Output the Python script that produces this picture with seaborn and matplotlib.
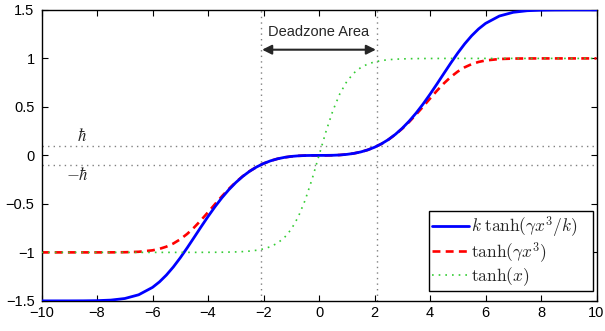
import numpy as np
import pandas as pd
import matplotlib
matplotlib.use("Agg")
import matplotlib.pyplot as plt
import seaborn as sns

# values
x_vals = [-10, -9.5, -9, -8.5, -8, -7.5, -7, -6.5,
          -6, -5.75, -5.5, -5.25, -5, -4.75, -4.5, -4.25, -4, -3.75, -3.5, -3.25,
          -3, -2.75, -2.5, -2.25, -2, -1.75, -1.5, -1.25, -1, -0.75, -0.5, -0.25,
          0, 0.25, 0.5, 0.75, 1, 1.25, 1.5, 1.75, 2, 2.25, 2.5, 2.75,
          3, 3.25, 3.5, 3.75, 4, 4.25, 4.5, 4.75, 5, 5.25, 5.5, 5.75, 6,
          6.5, 7, 7.5, 8, 8.5, 9, 9.5, 10]

blue_vals = [-1.5, -1.5, -1.4999, -1.4994, -1.4977, -1.4919, -1.4756, -1.4372,
             -1.3609, -1.3042, -1.2338, -1.1505, -1.0559, -0.9529, -0.8452, -0.7365,
             -0.6304, -0.5298, -0.4372, -0.3537, -0.2802, -0.2168, -0.1634, -0.1193,
             -0.0839, -0.0562, -0.0354, -0.0205, -0.0105, -0.0044, -0.0013, -0.0002,
             0, 0.0002, 0.0013, 0.0044, 0.0105, 0.0205, 0.0354, 0.0562, 0.0839,
             0.1193, 0.1634, 0.2168, 0.2802, 0.3537, 0.4372, 0.5298, 0.6304, 0.7365,
             0.8452, 0.9529, 1.0559, 1.1505, 1.2338, 1.3042, 1.3609,
             1.4372, 1.4756, 1.4919, 1.4977, 1.4994, 1.4999, 1.5, 1.5]

red_vals = [-1.0, -1.0, -1.0, -1.0, -1.0, -0.9997, -0.9985, -0.9938,
            -0.9788, -0.9637, -0.9410, -0.9086, -0.8649, -0.8094, -0.7429, -0.6674,
            -0.5863, -0.5033, -0.4221, -0.3456, -0.2761, -0.2150, -0.1626, -0.1190,
            -0.0838, -0.0562, -0.0354, -0.0205, -0.0105, -0.0044, -0.0013, -0.0002,
            0, 0.0002, 0.0013, 0.0044, 0.0105, 0.0205, 0.0354, 0.0562, 0.0838,
            0.1190, 0.1626, 0.2150, 0.2761, 0.3456, 0.4221, 0.5033, 0.5863, 0.6674,
            0.7429, 0.8094, 0.8649, 0.9086, 0.9410, 0.9637, 0.9788,
            0.9938, 0.9985, 0.9997, 1.0, 1.0, 1.0, 1.0, 1.0]

green_vals = [-1.0, -1.0, -1.0, -1.0, -1.0, -1.0, -1.0, -1.0,
              -1.0, -1.0, -1.0, -1.0, -1.0, -0.9999, -0.9998, -0.9996,
              -0.9993, -0.9989, -0.9982, -0.9970, -0.9951, -0.9919, -0.9866, -0.9780,
              -0.9640, -0.9414, -0.9051, -0.8483, -0.7616, -0.6351, -0.4621, -0.2449,
              0, 0.2449, 0.4621, 0.6351, 0.7616, 0.8483, 0.9051, 0.9414, 0.9640,
              0.9780, 0.9866, 0.9919, 0.9951, 0.9970, 0.9982, 0.9989, 0.9993, 0.9996,
              0.9998, 0.9999, 1.0, 1.0, 1.0, 1.0, 1.0,
              1.0, 1.0, 1.0, 1.0, 1.0, 1.0, 1.0, 1.0]

hbar_level = 0.1
deadzone_edges = [-2.1, 2.1]
x_ticks = [-10, -8, -6, -4, -2, 0, 2, 4, 6, 8, 10]
x_labels = ["\u221210", "\u22128", "\u22126", "\u22124", "\u22122", "0", "2", "4", "6", "8", "10"]
y_ticks = [-1.5, -1, -0.5, 0, 0.5, 1, 1.5]
y_labels = ["\u22121.5", "\u22121", "\u22120.5", "0", "0.5", "1", "1.5"]
labels = [r"$k\;\tanh(\gamma x^3/k)$", r"$\tanh(\gamma x^3)$", r"$\tanh(x)$"]

sns.set_style("ticks", {"xtick.direction": "in", "ytick.direction": "in"})
plt.rcParams["font.family"] = ["Liberation Sans", "DejaVu Sans"]
plt.rcParams["mathtext.fontset"] = "cm"

df = pd.DataFrame({"x": x_vals, "blue": blue_vals, "red": red_vals, "green": green_vals})

fig = plt.figure(figsize=(6.05, 3.31), dpi=100)
ax = fig.add_axes([0.0686, 0.091, 0.9174, 0.879])

# reference lines
for y in [hbar_level, -hbar_level]:
    ax.axhline(y, color="0.5", linestyle=(0, (1, 3)), linewidth=1, zorder=1)
for xv in deadzone_edges:
    ax.axvline(xv, color="0.5", linestyle=(0, (1, 3)), linewidth=1, zorder=1)

sns.lineplot(data=df, x="x", y="red", color="#ff0000", linewidth=1.9,
             linestyle=(0, (3, 2)), label=labels[1], ax=ax, zorder=2)
sns.lineplot(data=df, x="x", y="blue", color="#0000ff", linewidth=2.0,
             label=labels[0], ax=ax, zorder=3)
sns.lineplot(data=df, x="x", y="green", color="#33cc33", linewidth=1.2,
             linestyle=(0, (1, 3)), label=labels[2], ax=ax, zorder=4)

ax.set_xlim(-10, 10)
ax.set_ylim(-1.5, 1.5)
ax.set_xticks(x_ticks)
ax.set_xticklabels(x_labels)
ax.set_yticks(y_ticks)
ax.set_yticklabels(y_labels)
ax.set_xlabel("")
ax.set_ylabel("")
ax.tick_params(direction="in", top=True, right=True, length=4, width=0.8,
               labelsize=10.5, colors="black")
ax.tick_params(axis="y", pad=5)
ax.tick_params(axis="x", pad=4)
for s in ax.spines.values():
    s.set_visible(True)
    s.set_linewidth(1)
    s.set_color("black")

# annotations
ax.annotate("", xy=(-2.05, 1.09), xytext=(2.05, 1.09),
            arrowprops=dict(arrowstyle="<|-|>", color="0.15", lw=1.5,
                            mutation_scale=14, shrinkA=0, shrinkB=0))
ax.text(0, 1.27, "Deadzone Area", ha="center", va="center", fontsize=10.5)
ax.text(-8.55, 0.21, r"$\hbar$", ha="center", va="center", fontsize=12)
ax.text(-8.7, -0.2, r"$-\hbar$", ha="center", va="center", fontsize=12)

handles, labs = ax.get_legend_handles_labels()
order = [labs.index(l) for l in labels]
leg_labels = [labs[i] for i in order]
leg_labels[0] = leg_labels[0] + "   "
leg = ax.legend([handles[i] for i in order], leg_labels,
                loc="lower right", bbox_to_anchor=(0.993, 0.034), borderaxespad=0,
                fontsize=12.5, handlelength=2.1, handletextpad=0.15,
                labelspacing=0.0, borderpad=0.2, fancybox=False,
                framealpha=1, edgecolor="black")
leg.get_frame().set_linewidth(1)

fig.savefig("out.png", dpi=100)
